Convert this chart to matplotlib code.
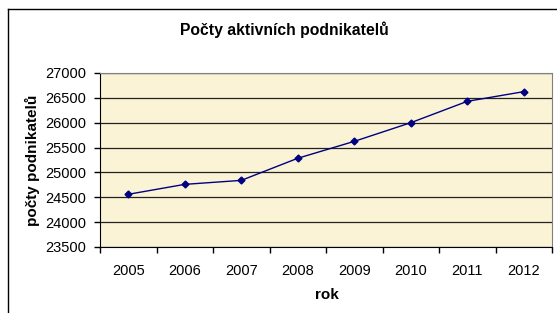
import matplotlib
matplotlib.use("Agg")
import numpy as np
from matplotlib import pyplot as plt
from matplotlib import rcParams
from matplotlib.lines import Line2D

rcParams["font.family"] = ["Liberation Sans", "DejaVu Sans"]

years = ["2005", "2006", "2007", "2008", "2009", "2010", "2011", "2012"]
counts = [24560, 24760, 24840, 25285, 25625, 26000, 26430, 26625]
y_ticks = [23500, 24000, 24500, 25000, 25500, 26000, 26500, 27000]

W, H = 557, 313
fig = plt.figure(figsize=(W / 100, H / 100), dpi=100)
fig.patch.set_facecolor("white")

# plot area in pixel coordinates of the reference
left, top, right, bottom = 100, 73, 552, 247
ax = fig.add_axes([left / W, 1 - bottom / H, (right - left) / W, (bottom - top) / H])
ax.set_facecolor("#fbf3d6")

x = np.arange(len(years))
ax.plot(x, counts, color="#000080", linewidth=1.0, marker="D", markersize=3.5,
        zorder=3)

ax.set_xlim(-0.5, len(years) - 0.5)
ax.set_ylim(y_ticks[0], y_ticks[-1])
ax.set_yticks(y_ticks)
ax.set_xticks(x)
ax.set_xticklabels(years)
ax.set_xticks(np.arange(len(years) + 1) - 0.5, minor=True)
ax.tick_params(axis="x", which="major", length=0, pad=12, labelsize=10.5)
ax.tick_params(axis="x", which="minor", length=4, width=1, color="black")
ax.tick_params(axis="y", length=4, width=1, labelsize=10.5, pad=6)

ax.grid(axis="y", color="#222222", linewidth=0.9)
ax.set_axisbelow(True)

ax.spines["left"].set_color("black")
ax.spines["bottom"].set_color("black")
ax.spines["top"].set_color("#808080")
ax.spines["right"].set_color("#808080")

ax.set_xlabel("rok", fontweight="bold", fontsize=11)
ax.set_ylabel("počty podnikatelů", fontweight="bold", fontsize=11)
ax.xaxis.set_label_coords((327 - left) / (right - left), -(295 - bottom) / (bottom - top))
ax.yaxis.set_label_coords(-(left - 32) / (right - left), 0.5)
ax.xaxis.label.set_va("center")
ax.yaxis.label.set_va("center")

fig.text(284 / W, 1 - 30 / H, "Počty aktivních podnikatelů", ha="center",
         va="center", fontweight="bold", fontsize=11.3)

# outer chart frame
fig.add_artist(Line2D([8 / W, 1], [1 - 9 / H, 1 - 9 / H], color="black",
                      linewidth=1, transform=fig.transFigure))
fig.add_artist(Line2D([8 / W, 8 / W], [1 - 9 / H, 0], color="black",
                      linewidth=1, transform=fig.transFigure))

fig.savefig("out.png", dpi=100)
